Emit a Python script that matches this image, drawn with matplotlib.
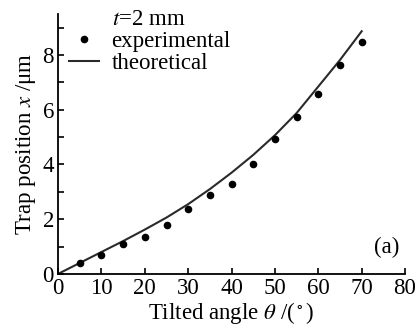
import matplotlib
matplotlib.use("Agg")
import matplotlib.pyplot as plt
from matplotlib.lines import Line2D
from matplotlib.ticker import MultipleLocator

plt.rcParams['font.family'] = ['Liberation Serif', 'DejaVu Serif']
plt.rcParams['mathtext.fontset'] = 'stix'

exp_angle = [5, 10, 15, 20, 25, 30, 35, 40, 45, 50, 55, 60, 65, 70]
exp_pos = [0.39, 0.68, 1.11, 1.36, 1.80, 2.37, 2.89, 3.30, 4.03, 4.93, 5.72, 6.57, 7.64, 8.46]

theo_angle = [0, 5, 10, 15, 20, 25, 30, 35, 40, 45, 50, 55, 60, 65, 70]
theo_pos = [0.0, 0.40, 0.80, 1.20, 1.62, 2.06, 2.55, 3.10, 3.70, 4.35, 5.07, 5.88, 6.85, 7.82, 8.87]

FS = 16.5

fig = plt.figure(figsize=(4.15, 3.34), dpi=100)
ax = fig.add_axes([0.14, 0.18, 0.836, 0.778])

ax.plot(theo_angle, theo_pos, color='#2a2a2a', lw=1.5)
ax.scatter(exp_angle, exp_pos, s=20, color='black', zorder=3)

ax.set_xlim(0, 80)
ax.set_ylim(0, 9.5)
ax.xaxis.set_major_locator(MultipleLocator(10))
ax.yaxis.set_major_locator(MultipleLocator(2))
ax.yaxis.set_minor_locator(MultipleLocator(1))
ax.tick_params(which='both', direction='in', length=4, width=1.2, labelsize=FS, pad=3)
ax.spines['top'].set_visible(False)
ax.spines['right'].set_visible(False)
for s in ('left', 'bottom'):
    ax.spines[s].set_linewidth(1.3)

ax.set_xlabel(r'Tilted angle $\theta$ /($^\circ$)', fontsize=FS, labelpad=1)
ax.set_ylabel(r'Trap position $x$ /μm', fontsize=FS, labelpad=3)

handles = [Line2D([], [], linestyle='none', marker=None),
           Line2D([], [], linestyle='none', marker='o', markersize=4.5, color='black'),
           Line2D([], [], color='#2a2a2a', lw=1.5)]
labels = [r'$t$=2 mm', 'experimental', 'theoretical']
leg = ax.legend(handles, labels, loc='upper left', bbox_to_anchor=(0.032, 1.02),
                frameon=False, fontsize=FS, handlelength=1.3, handletextpad=0.55,
                labelspacing=0.05, borderaxespad=0, borderpad=0)

ax.text(0.985, 0.1, '(a)', transform=ax.transAxes, ha='right', va='center', fontsize=FS)

fig.savefig('out.png', dpi=100)
